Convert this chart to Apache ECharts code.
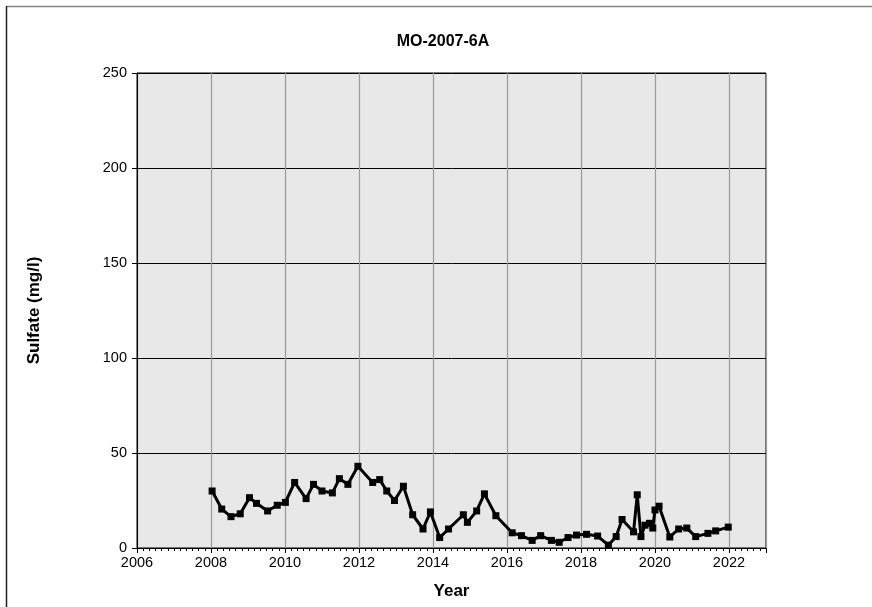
<!DOCTYPE html>
<html>
<head>
<meta charset="utf-8">
<script src="https://cdn.jsdelivr.net/npm/echarts@6/dist/echarts.min.js"></script>
<style>
html,body{margin:0;padding:0;background:#fff;}
#c{width:872px;height:607px;}
</style>
</head>
<body>
<div id="c"></div>
<script>
const chartTitle = "MO-2007-6A";
const xAxisTitle = "Year";
const yAxisTitle = "Sulfate (mg/l)";
const years = [2008.03,2008.29,2008.54,2008.79,2009.04,2009.23,2009.53,2009.79,2010.01,2010.26,2010.57,2010.77,2011.00,2011.28,2011.47,2011.70,2011.97,2012.37,2012.56,2012.75,2012.96,2013.20,2013.45,2013.73,2013.93,2014.18,2014.42,2014.82,2014.93,2015.18,2015.39,2015.70,2016.14,2016.39,2016.68,2016.91,2017.20,2017.41,2017.65,2017.88,2018.15,2018.45,2018.74,2018.95,2019.11,2019.42,2019.52,2019.62,2019.73,2019.85,2019.94,2020.00,2020.11,2020.40,2020.64,2020.86,2021.10,2021.43,2021.64,2021.98];
const sulfate = [30,20.5,16.5,18,26.5,23.5,19.5,22.5,24,34.5,26,33.5,30,29,36.5,33.5,43,34.5,36,30,25,32.5,17.5,10,19,5.5,10,17.5,13.5,19.5,28.5,17,8,6.5,4,6.5,4,3,5.5,6.8,7.2,6.3,1.5,6,15,8.5,28,6,12,13,10.5,20,22,5.8,10,10.5,6,7.7,9,11];
const xMin = 2006, xMax = 2023, xStep = 2;
const yMin = 0, yMax = 250, yStep = 50;

const chart = echarts.init(document.getElementById('c'), null, {renderer:'canvas'});
const font = 'Liberation Sans, Arial, sans-serif';
chart.setOption({
  animation:false,
  backgroundColor:'#fff',
  title:{text:chartTitle,left:438,top:29,textAlign:'center',
    textStyle:{fontFamily:font,fontSize:16,fontWeight:'bold',color:'#000'}},
  grid:{left:137,right:106,top:73,bottom:59,show:true,backgroundColor:'#e8e8e8',borderColor:'#000',borderWidth:1},
  xAxis:{type:'value',min:xMin,max:xMax,interval:xStep,
    name:xAxisTitle,nameLocation:'middle',nameGap:35,
    nameTextStyle:{fontFamily:font,fontSize:17,fontWeight:'bold',color:'#000'},
    axisLine:{onZero:false,lineStyle:{color:'#000',width:1}},
    axisTick:{show:true,inside:false,length:5,lineStyle:{color:'#000'}},
    minorTick:{show:true,splitNumber:12,length:3,lineStyle:{color:'#000'}},
    axisLabel:{fontFamily:font,fontSize:14.5,color:'#000',margin:7,showMaxLabel:false,
      formatter:v=>(Math.round(v)%2===0?String(Math.round(v)):'')},
    splitLine:{show:true,lineStyle:{color:'#999',width:1.2}}
  },
  yAxis:{type:'value',min:yMin,max:yMax,interval:yStep,
    name:yAxisTitle,nameLocation:'middle',nameGap:94,
    nameTextStyle:{fontFamily:font,fontSize:17,fontWeight:'bold',color:'#000'},
    axisLine:{show:true,lineStyle:{color:'#000',width:1}},
    axisTick:{show:true,inside:false,length:5,lineStyle:{color:'#000'}},
    axisLabel:{fontFamily:font,fontSize:14.5,color:'#000',margin:10},
    splitLine:{show:true,lineStyle:{color:'#000',width:1}}
  },
  graphic:[
    {type:'line',shape:{x1:6,y1:6.5,x2:872,y2:6.5},style:{stroke:'#888',lineWidth:1.5},silent:true},
    {type:'line',shape:{x1:6.5,y1:6,x2:6.5,y2:607},style:{stroke:'#222',lineWidth:1.5},silent:true}
  ],
  series:[{
    type:'line',
    data:years.map((y,i)=>[y,sulfate[i]]),
    symbol:'rect',symbolSize:7,
    lineStyle:{color:'#000',width:3},
    itemStyle:{color:'#000'},
    clip:false
  }]
});
</script>
</body>
</html>
